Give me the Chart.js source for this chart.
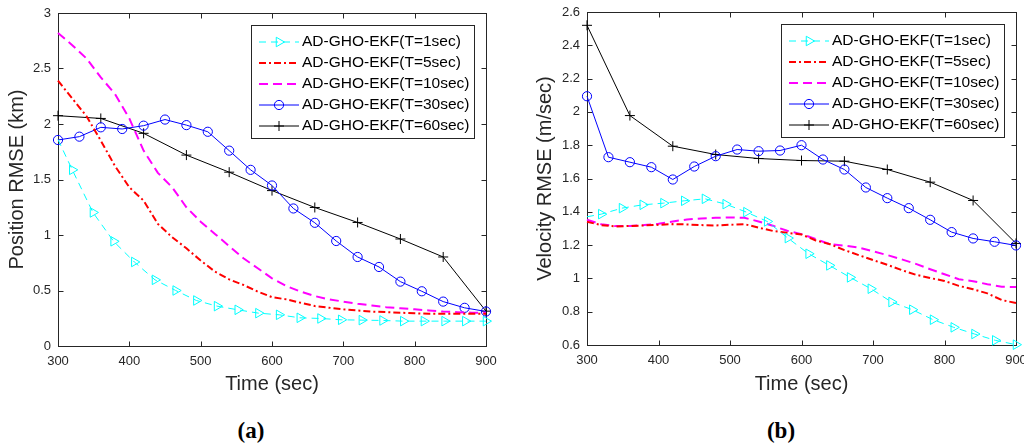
<!DOCTYPE html>
<html>
<head>
<meta charset="utf-8">
<script src="https://cdn.jsdelivr.net/npm/chart.js"></script>
<style>
  body { margin: 0; background: #fff; width: 1024px; height: 443px; position: relative; overflow: hidden; }
  .panel { position: absolute; top: 0; width: 512px; height: 400px; }
  .cap { position: absolute; top: 418px; width: 80px; text-align: center; font: bold 23px "Liberation Serif", "Times New Roman", serif; line-height: 26px; color: #000; }
</style>
</head>
<body>
<div class="panel" style="left:0"><canvas id="posChart" width="512" height="400"></canvas></div>
<div class="panel" style="left:512px"><canvas id="velChart" width="512" height="400"></canvas></div>
<div class="cap" style="left:211px">(a)</div>
<div class="cap" style="left:741px">(b)</div>
<script>
// nombres de las series
const seriesNames = ['AD-GHO-EKF(T=1sec)', 'AD-GHO-EKF(T=5sec)', 'AD-GHO-EKF(T=10sec)', 'AD-GHO-EKF(T=30sec)', 'AD-GHO-EKF(T=60sec)'];

// ejes de tiempo (sec)
const timeT1 = [300, 320, 349, 378, 407, 436, 465, 494, 523, 552, 581, 610, 639, 668, 697, 726, 755, 784, 813, 842, 871, 900];
const timeDense = [300, 320, 340, 360, 380, 400, 420, 440, 460, 480, 500, 520, 540, 560, 580, 600, 620, 640, 660, 680, 700, 720, 740, 760, 780, 800, 820, 840, 860, 880, 900];
const timeT30 = [300, 330, 360, 390, 420, 450, 480, 510, 540, 570, 600, 630, 660, 690, 720, 750, 780, 810, 840, 870, 900];
const timeT60 = [300, 360, 420, 480, 540, 600, 660, 720, 780, 840, 900];

// Position RMSE (km)
const posT1 = [1.86, 1.587, 1.203, 0.943, 0.757, 0.596, 0.50, 0.41, 0.359, 0.326, 0.296, 0.281, 0.254, 0.248, 0.236, 0.233, 0.23, 0.224, 0.224, 0.224, 0.224, 0.224];
const posT5 = [2.39, 2.23, 2.07, 1.85, 1.62, 1.43, 1.31, 1.10, 0.98, 0.88, 0.77, 0.67, 0.60, 0.55, 0.49, 0.44, 0.42, 0.39, 0.36, 0.345, 0.33, 0.32, 0.31, 0.305, 0.30, 0.295, 0.29, 0.29, 0.29, 0.29, 0.29];
const posT10 = [2.82, 2.71, 2.59, 2.42, 2.27, 2.05, 1.76, 1.56, 1.43, 1.25, 1.12, 1.01, 0.90, 0.79, 0.70, 0.61, 0.54, 0.49, 0.45, 0.42, 0.40, 0.38, 0.365, 0.35, 0.34, 0.33, 0.32, 0.31, 0.305, 0.30, 0.30];
const posT30 = [1.856, 1.886, 1.97, 1.955, 1.985, 2.04, 1.99, 1.93, 1.76, 1.587, 1.446, 1.239, 1.11, 0.946, 0.802, 0.712, 0.58, 0.493, 0.40, 0.344, 0.311];
const posT60 = [2.075, 2.05, 1.916, 1.72, 1.566, 1.40, 1.248, 1.113, 0.964, 0.802, 0.314];

// Velocity RMSE (m/sec)
const velT1 = [1.37, 1.386, 1.422, 1.442, 1.452, 1.466, 1.478, 1.446, 1.398, 1.342, 1.242, 1.148, 1.078, 1.006, 0.938, 0.858, 0.812, 0.752, 0.706, 0.666, 0.628, 0.602];
const velT5 = [1.34, 1.32, 1.312, 1.315, 1.318, 1.322, 1.326, 1.324, 1.32, 1.318, 1.322, 1.326, 1.305, 1.285, 1.274, 1.264, 1.228, 1.205, 1.17, 1.14, 1.11, 1.082, 1.05, 1.022, 1.002, 0.985, 0.955, 0.935, 0.91, 0.87, 0.852];
const velT10 = [1.352, 1.325, 1.314, 1.314, 1.32, 1.328, 1.342, 1.354, 1.36, 1.364, 1.366, 1.364, 1.342, 1.316, 1.286, 1.266, 1.236, 1.205, 1.197, 1.185, 1.163, 1.14, 1.115, 1.087, 1.055, 1.025, 0.995, 0.983, 0.965, 0.95, 0.948];
const velT30 = [2.094, 1.728, 1.698, 1.668, 1.594, 1.672, 1.734, 1.774, 1.764, 1.768, 1.80, 1.714, 1.654, 1.546, 1.482, 1.422, 1.352, 1.278, 1.24, 1.22, 1.198];
const velT60 = [2.52, 1.978, 1.794, 1.744, 1.72, 1.708, 1.704, 1.654, 1.578, 1.468, 1.21];

// rangos de los ejes
const xRange = [300, 900, 100];
const posRange = [0, 3, 0.5];
const velRange = [0.6, 2.6, 0.2];

const axisColor = '#262626';
const fontFamily = '"Liberation Sans", Arial, Helvetica, sans-serif';

function toPoints(xs, ys) {
  return ys.map((y, i) => ({ x: xs[i], y: y }));
}

// crear los 5 datasets de un panel
function buildDatasets(v1, v5, v10, v30, v60) {
  return [
    { label: seriesNames[0], data: toPoints(timeT1, v1), borderColor: '#00ffff', borderWidth: 1, borderDash: [7, 5],
      pointStyle: 'triangle', pointRotation: 90, pointRadius: timeT1.map((t, i) => i === 0 ? 0 : 5.5),
      pointBorderColor: '#00ffff', pointBackgroundColor: 'rgba(0,0,0,0)', pointBorderWidth: 1, markerSize: 5.5 },
    { label: seriesNames[1], data: toPoints(timeDense, v5), borderColor: '#ff0000', borderWidth: 2, borderDash: [7, 3, 2, 3], pointRadius: 0 },
    { label: seriesNames[2], data: toPoints(timeDense, v10), borderColor: '#ff00ff', borderWidth: 2, borderDash: [9, 5], pointRadius: 0 },
    { label: seriesNames[3], data: toPoints(timeT30, v30), borderColor: '#0000ff', borderWidth: 1,
      pointStyle: 'circle', pointRadius: 4.6, pointBorderColor: '#0000ff', pointBackgroundColor: 'rgba(0,0,0,0)', pointBorderWidth: 1, markerSize: 4.6 },
    { label: seriesNames[4], data: toPoints(timeT60, v60), borderColor: '#000000', borderWidth: 1,
      pointStyle: 'cross', pointRadius: 5, pointBorderColor: '#000000', pointBorderWidth: 1, markerSize: 5 }
  ].map(d => Object.assign(d, { fill: false, tension: 0, clip: false, pointHoverRadius: 0 }));
}

function drawMarker(ctx, style, x, y, r) {
  ctx.beginPath();
  if (style === 'circle') {
    ctx.arc(x, y, r, 0, Math.PI * 2);
  } else if (style === 'triangle') {
    ctx.moveTo(x + r, y);
    ctx.lineTo(x - r / 2, y - r * 0.866);
    ctx.lineTo(x - r / 2, y + r * 0.866);
    ctx.closePath();
  } else if (style === 'cross') {
    ctx.moveTo(x - r, y); ctx.lineTo(x + r, y);
    ctx.moveTo(x, y - r); ctx.lineTo(x, y + r);
  }
  ctx.stroke();
}

// caja y marcas interiores estilo MATLAB
const matlabFrame = {
  id: 'matlabFrame',
  beforeDatasetsDraw(chart) {
    const { ctx, chartArea: a, scales } = chart;
    const L = Math.round(a.left) + 0.5, R = Math.round(a.right) + 0.5;
    const T = Math.round(a.top) + 0.5, B = Math.round(a.bottom) + 0.5;
    ctx.save();
    ctx.strokeStyle = axisColor;
    ctx.lineWidth = 1;
    ctx.strokeRect(L, T, R - L, B - T);
    ctx.beginPath();
    scales.x.ticks.forEach(t => {
      const px = Math.round(scales.x.getPixelForValue(t.value)) + 0.5;
      ctx.moveTo(px, B); ctx.lineTo(px, B - 5);
      ctx.moveTo(px, T); ctx.lineTo(px, T + 5);
    });
    scales.y.ticks.forEach(t => {
      const py = Math.round(scales.y.getPixelForValue(t.value)) + 0.5;
      ctx.moveTo(L, py); ctx.lineTo(L + 5, py);
      ctx.moveTo(R, py); ctx.lineTo(R - 5, py);
    });
    ctx.stroke();
    ctx.restore();
  }
};

// leyenda dentro del area del grafico (arriba a la derecha)
const insideLegend = {
  id: 'insideLegend',
  afterDatasetsDraw(chart) {
    const { ctx, chartArea: a } = chart;
    const sets = chart.data.datasets;
    ctx.save();
    ctx.font = '15.5px ' + fontFamily;
    const textW = Math.max(...sets.map(d => ctx.measureText(d.label).width));
    const w = Math.round(51 + textW + 4), h = 113, rowH = 21;
    const left = Math.round(a.right - 12 - w), top = Math.round(a.top + 12);
    ctx.fillStyle = '#ffffff';
    ctx.fillRect(left, top, w, h);
    ctx.strokeStyle = axisColor;
    ctx.lineWidth = 1;
    ctx.strokeRect(left + 0.5, top + 0.5, w, h);
    sets.forEach((d, i) => {
      const y = top + 17 + i * rowH;
      ctx.strokeStyle = d.borderColor;
      ctx.lineWidth = d.borderWidth;
      ctx.setLineDash(d.borderDash || []);
      ctx.beginPath();
      ctx.moveTo(left + 8, y);
      ctx.lineTo(left + 48, y);
      ctx.stroke();
      ctx.setLineDash([]);
      if (d.markerSize) {
        ctx.lineWidth = 1;
        drawMarker(ctx, d.pointStyle, left + 28, y, d.markerSize);
      }
      ctx.fillStyle = '#000000';
      ctx.textBaseline = 'middle';
      ctx.textAlign = 'left';
      ctx.fillText(d.label, left + 51, y);
    });
    ctx.restore();
  }
};

function buildOptions(cfg) {
  return {
    responsive: false,
    animation: false,
    layout: { padding: { left: 0, right: cfg.padRight, top: cfg.padTop, bottom: 0 } },
    plugins: { legend: { display: false }, tooltip: { enabled: false } },
    scales: {
      x: {
        type: 'linear', min: xRange[0], max: xRange[1],
        ticks: { stepSize: xRange[2], padding: 8, color: axisColor, autoSkip: false, maxRotation: 0,
                 font: { family: fontFamily, size: 13 } },
        grid: { display: false, drawTicks: false },
        border: { display: false },
        title: { display: true, text: 'Time (sec)', color: axisColor, padding: { top: 4, bottom: 4 },
                 font: { family: fontFamily, size: 20 } },
        afterFit: s => { s.height = cfg.xHeight; s.paddingLeft = 0; s.paddingRight = 0; }
      },
      y: {
        min: cfg.yRange[0], max: cfg.yRange[1],
        ticks: { stepSize: cfg.yRange[2], padding: 7, color: axisColor, autoSkip: false,
                 font: { family: fontFamily, size: 13 },
                 callback: v => String(Math.round(v * 10) / 10) },
        grid: { display: false, drawTicks: false },
        border: { display: false },
        title: { display: true, text: cfg.yTitle, color: axisColor, padding: { top: cfg.yTitlePad, bottom: 0 },
                 font: { family: fontFamily, size: 20 } },
        afterFit: s => { s.width = cfg.yWidth; s.paddingTop = 0; s.paddingBottom = 0; }
      }
    }
  };
}

window.onload = function() {
  new Chart(document.getElementById('posChart').getContext('2d'), {
    type: 'line',
    data: { datasets: buildDatasets(posT1, posT5, posT10, posT30, posT60) },
    options: buildOptions({ padRight: 26, padTop: 13, xHeight: 54, yWidth: 58, yTitlePad: 5.5,
                            yRange: posRange, yTitle: 'Position RMSE (km)' }),
    plugins: [matlabFrame, insideLegend]
  });
  new Chart(document.getElementById('velChart').getContext('2d'), {
    type: 'line',
    data: { datasets: buildDatasets(velT1, velT5, velT10, velT30, velT60) },
    options: buildOptions({ padRight: 8, padTop: 12, xHeight: 55, yWidth: 75, yTitlePad: 21.5,
                            yRange: velRange, yTitle: 'Velocity RMSE (m/sec)' }),
    plugins: [matlabFrame, insideLegend]
  });
};
</script>
</body>
</html>
